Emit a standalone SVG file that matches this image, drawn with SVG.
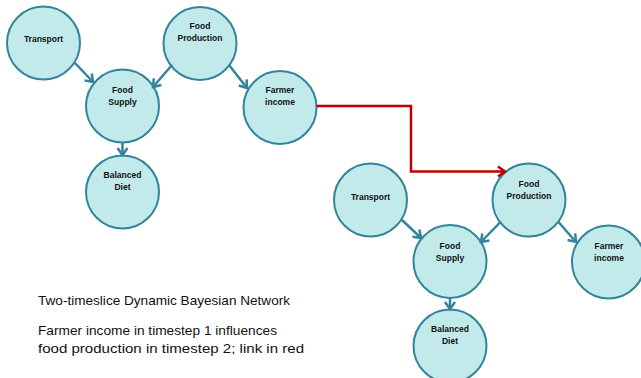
<svg xmlns="http://www.w3.org/2000/svg" width="641" height="378" viewBox="0 0 641 378">
<defs>
<style>
.node circle{fill:#C2EAEA;stroke:#31849B;stroke-width:2}
.node text{font-family:"Liberation Sans",Arial,sans-serif;font-weight:bold;font-size:8.5px;fill:#111;text-anchor:middle}
.edge{fill:none;stroke:#31849B;stroke-width:2.5}
.red{fill:none;stroke:#C00000;stroke-width:2.5}
.cap{font-family:"Liberation Sans",Arial,sans-serif;font-size:13.5px;fill:#111}
</style>
<marker id="ah" markerUnits="userSpaceOnUse" markerWidth="14" markerHeight="14" refX="9" refY="6" orient="auto" viewBox="0 0 14 12">
<path d="M2,1 L9,6 L2,11" fill="none" stroke="#31849B" stroke-width="2.5"/>
</marker>
<marker id="ahr" markerUnits="userSpaceOnUse" markerWidth="14" markerHeight="14" refX="9" refY="6" orient="auto" viewBox="0 0 14 12">
<path d="M2,1 L9,6 L2,11" fill="none" stroke="#C00000" stroke-width="2.5"/>
</marker>
</defs>
<rect width="641" height="378" fill="#fff"/>
<g id="nodes-slice1">
<g id="t1-transport" class="node"><circle cx="43.5" cy="43" r="36.5"/><text x="43.5" y="42">Transport</text></g>
<g id="t1-foodproduction" class="node"><circle cx="200" cy="43.5" r="36.5"/><text x="200" y="29">Food</text><text x="200" y="41">Production</text></g>
<g id="t1-foodsupply" class="node"><circle cx="122.5" cy="106" r="36.5"/><text x="122.5" y="93">Food</text><text x="122.5" y="105">Supply</text></g>
<g id="t1-farmerincome" class="node"><circle cx="280" cy="107.5" r="36.5"/><text x="280" y="93">Farmer</text><text x="280" y="105">income</text></g>
<g id="t1-balanceddiet" class="node"><circle cx="122.5" cy="192" r="36.5"/><text x="122.5" y="178">Balanced</text><text x="122.5" y="190">Diet</text></g>
</g>
<g id="nodes-slice2">
<g id="t2-transport" class="node"><circle cx="370.5" cy="200" r="36.5"/><text x="370.5" y="200">Transport</text></g>
<g id="t2-foodproduction" class="node"><circle cx="529" cy="200" r="36.5"/><text x="529" y="187">Food</text><text x="529" y="199">Production</text></g>
<g id="t2-foodsupply" class="node"><circle cx="450" cy="261.5" r="36.5"/><text x="450" y="249">Food</text><text x="450" y="261">Supply</text></g>
<g id="t2-farmerincome" class="node"><circle cx="608.5" cy="262" r="36.5"/><text x="609" y="249">Farmer</text><text x="609" y="261">income</text></g>
<g id="t2-balanceddiet" class="node"><circle cx="450" cy="346" r="36.5"/><text x="450" y="332">Balanced</text><text x="450" y="344">Diet</text></g>
</g>
<g id="connectors">
<path class="edge" d="M75,63 L93,82" marker-end="url(#ah)"/>
<path class="edge" d="M172,65 L153,87" marker-end="url(#ah)"/>
<path class="edge" d="M229,65 L247,88" marker-end="url(#ah)"/>
<path class="edge" d="M122.5,142.5 L122.5,155" marker-end="url(#ah)"/>
<path class="edge" d="M402,220 L421,238" marker-end="url(#ah)"/>
<path class="edge" d="M501,221.5 L481,242" marker-end="url(#ah)"/>
<path class="edge" d="M558,221.5 L576,242" marker-end="url(#ah)"/>
<path class="edge" d="M450,298 L450,309" marker-end="url(#ah)"/>
<path class="red" d="M316.5,106 H411 V171.5 H505" marker-end="url(#ahr)"/>
</g>
<g id="caption">
<text class="cap" x="38" y="305" textLength="252" lengthAdjust="spacingAndGlyphs">Two-timeslice Dynamic Bayesian Network</text>
<text class="cap" x="38" y="335" textLength="239" lengthAdjust="spacingAndGlyphs">Farmer income in timestep 1 influences</text>
<text class="cap" x="38" y="353" textLength="266" lengthAdjust="spacingAndGlyphs">food production in timestep 2; link in red</text>
</g>
</svg>
